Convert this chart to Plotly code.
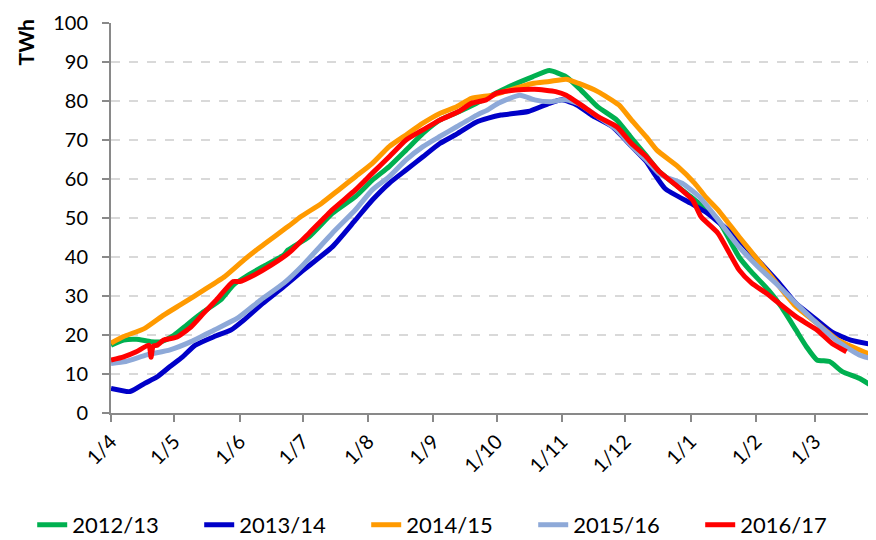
import plotly.graph_objects as go

# ---- data (TWh) ----
months_tickvals = ["2016-04-01", "2016-05-01", "2016-06-01", "2016-07-01", "2016-08-01",
                   "2016-09-01", "2016-10-01", "2016-11-01", "2016-12-01", "2017-01-01",
                   "2017-02-01", "2017-03-01"]
months_ticktext = ["1/4", "1/5", "1/6", "1/7", "1/8", "1/9", "1/10", "1/11", "1/12", "1/1", "1/2", "1/3"]

s1213_dates = ["2016-04-01", "2016-04-07", "2016-04-13", "2016-04-20", "2016-04-25", "2016-05-01",
               "2016-05-07", "2016-05-15", "2016-05-23", "2016-05-29", "2016-06-04", "2016-06-12",
               "2016-06-22", "2016-06-24", "2016-07-04", "2016-07-15", "2016-07-26", "2016-08-03",
               "2016-08-11", "2016-08-19", "2016-08-27", "2016-09-04", "2016-09-12", "2016-09-21",
               "2016-09-27", "2016-10-07", "2016-10-18", "2016-10-26", "2016-11-03", "2016-11-10",
               "2016-11-18", "2016-11-27", "2016-12-04", "2016-12-11", "2016-12-17", "2017-01-01",
               "2017-01-14", "2017-01-24", "2017-01-29", "2017-02-07", "2017-02-13", "2017-02-20",
               "2017-02-25", "2017-03-02", "2017-03-08", "2017-03-14", "2017-03-22", "2017-03-30"]
s1213_vals = [17.4, 18.7, 18.9, 18.3, 18.3, 20.0,
              22.6, 26.0, 29.0, 32.8, 35.0, 37.5,
              40.5, 41.8, 45.2, 51.2, 55.5, 59.7,
              63.2, 67.4, 71.7, 75.1, 77.0, 79.3,
              81.0, 83.7, 86.2, 87.8, 86.2, 82.8,
              78.5, 75.1, 70.5, 66.0, 62.0, 55.5,
              49.5, 40.0, 36.7, 31.5, 27.3, 21.3,
              17.0, 13.6, 13.2, 10.6, 8.9, 6.3]

s1314_dates = ["2016-04-01", "2016-04-10", "2016-04-17", "2016-04-23", "2016-04-29", "2016-05-05",
               "2016-05-11", "2016-05-20", "2016-05-28", "2016-06-03", "2016-06-12", "2016-06-22",
               "2016-07-01", "2016-07-15", "2016-07-26", "2016-08-03", "2016-08-11", "2016-08-19",
               "2016-08-27", "2016-09-04", "2016-09-12", "2016-09-21", "2016-09-27", "2016-10-03",
               "2016-10-16", "2016-10-26", "2016-11-01", "2016-11-08", "2016-11-15", "2016-11-25",
               "2016-12-04", "2016-12-11", "2016-12-14", "2016-12-20", "2017-01-01", "2017-01-08",
               "2017-01-13", "2017-01-24", "2017-02-02", "2017-02-12", "2017-02-20", "2017-03-02",
               "2017-03-09", "2017-03-18", "2017-03-30"]
s1314_vals = [6.3, 5.5, 7.6, 9.3, 11.9, 14.4,
              17.4, 19.6, 21.3, 23.8, 28.1, 32.4,
              36.5, 42.6, 49.5, 54.6, 58.9, 62.3,
              65.7, 69.1, 71.5, 74.5, 75.6, 76.4,
              77.3, 79.4, 80.3, 79.0, 76.4, 73.4,
              68.4, 64.5, 62.0, 57.5, 53.8, 51.6,
              49.5, 44.4, 39.2, 33.3, 28.1, 23.8,
              20.8, 18.7, 17.4]

s1415_dates = ["2016-04-01", "2016-04-07", "2016-04-17", "2016-04-26", "2016-05-05", "2016-05-15",
               "2016-05-25", "2016-06-03", "2016-06-09", "2016-06-24", "2016-06-30", "2016-07-10",
               "2016-07-18", "2016-07-26", "2016-08-03", "2016-08-11", "2016-08-19", "2016-08-27",
               "2016-09-04", "2016-09-12", "2016-09-19", "2016-09-29", "2016-10-07", "2016-10-18",
               "2016-10-26", "2016-11-03", "2016-11-09", "2016-11-18", "2016-11-28", "2016-12-04",
               "2016-12-11", "2016-12-16", "2016-12-26", "2017-01-03", "2017-01-08", "2017-01-14",
               "2017-01-24", "2017-02-02", "2017-02-12", "2017-02-20", "2017-03-02", "2017-03-12",
               "2017-03-22", "2017-03-30"]
s1415_vals = [17.9, 19.6, 21.7, 25.1, 28.1, 31.5,
              35.0, 39.2, 41.8, 47.8, 50.3, 53.8,
              57.2, 60.6, 64.0, 68.3, 71.3, 74.3,
              76.8, 78.5, 80.7, 81.5, 82.8, 84.5,
              85.0, 85.6, 84.5, 82.4, 79.0, 75.1,
              70.8, 67.4, 63.2, 58.9, 55.5, 52.1,
              45.2, 39.2, 32.5, 27.3, 23.0, 18.7,
              16.2, 14.4]

s1516_dates = ["2016-04-01", "2016-04-08", "2016-04-18", "2016-04-29", "2016-05-09", "2016-05-20",
               "2016-05-31", "2016-06-11", "2016-06-22", "2016-07-01", "2016-07-15", "2016-07-26",
               "2016-08-03", "2016-08-11", "2016-08-19", "2016-08-27", "2016-09-04", "2016-09-12",
               "2016-09-22", "2016-09-27", "2016-10-02", "2016-10-12", "2016-10-19", "2016-10-26",
               "2016-11-03", "2016-11-10", "2016-11-18", "2016-11-27", "2016-12-04", "2016-12-11",
               "2016-12-17", "2016-12-20", "2016-12-28", "2017-01-05", "2017-01-13", "2017-01-24",
               "2017-02-02", "2017-02-12", "2017-02-20", "2017-03-02", "2017-03-12", "2017-03-22",
               "2017-03-30"]
s1516_vals = [12.7, 13.2, 14.9, 16.2, 18.3, 21.3,
              24.3, 29.0, 33.3, 37.9, 46.1, 52.1,
              57.2, 60.6, 64.9, 68.3, 70.9, 73.4,
              76.5, 77.8, 79.5, 81.5, 80.3, 79.8,
              80.3, 79.0, 76.0, 72.6, 68.4, 64.9,
              61.4, 60.5, 58.9, 55.5, 50.3, 42.6,
              37.5, 32.5, 28.1, 23.0, 18.3, 14.9,
              13.6]

s1617_dates = ["2016-04-01", "2016-04-07", "2016-04-13", "2016-04-19", "2016-04-20", "2016-04-21",
               "2016-04-23", "2016-04-26", "2016-05-02", "2016-05-09", "2016-05-15", "2016-05-21",
               "2016-05-29", "2016-06-01", "2016-06-08", "2016-06-16", "2016-06-25", "2016-07-04",
               "2016-07-15", "2016-07-26", "2016-08-03", "2016-08-11", "2016-08-19", "2016-08-27",
               "2016-09-04", "2016-09-13", "2016-09-19", "2016-09-26", "2016-10-01", "2016-10-10",
               "2016-10-19", "2016-10-29", "2016-11-03", "2016-11-10", "2016-11-18", "2016-11-27",
               "2016-12-04", "2016-12-11", "2016-12-17", "2016-12-26", "2017-01-02", "2017-01-06",
               "2017-01-14", "2017-01-24", "2017-01-30", "2017-02-06", "2017-02-12", "2017-02-20",
               "2017-03-02", "2017-03-09", "2017-03-16"]
s1617_vals = [13.6, 14.4, 15.7, 17.4, 14.3, 17.2,
              17.4, 18.7, 19.4, 22.1, 25.6, 29.0,
              33.7, 33.7, 35.4, 37.9, 41.3, 46.1,
              52.1, 57.2, 61.5, 65.7, 70.0, 72.6,
              75.1, 77.3, 79.4, 80.3, 82.0, 82.8,
              83.0, 82.4, 81.5, 79.0, 76.0, 73.4,
              69.1, 65.7, 62.0, 58.0, 54.6, 50.3,
              46.1, 36.7, 33.3, 30.7, 28.1, 24.7,
              21.3, 17.9, 15.7]

series = [
    ("2012/13", s1213_dates, s1213_vals, "#00B050"),
    ("2013/14", s1314_dates, s1314_vals, "#0000C8"),
    ("2014/15", s1415_dates, s1415_vals, "#FF9A00"),
    ("2015/16", s1516_dates, s1516_vals, "#8EA9D8"),
    ("2016/17", s1617_dates, s1617_vals, "#FF0000"),
]

fig = go.Figure()
for name, d, v, c in series:
    fig.add_trace(go.Scatter(x=d, y=v, name=name, mode="lines",
                             line=dict(color=c, width=5, shape="spline", smoothing=0.5)))

FONT = "Lato"
# the page body adds an 8px offset, so the figure is 868x532
fig.update_layout(
    width=868, height=532,
    margin=dict(l=103, r=0, t=15, b=127, autoexpand=False),
    plot_bgcolor="white", paper_bgcolor="white",
    font=dict(family=FONT, size=20, color="#000000"),
    showlegend=True,
    legend=dict(orientation="h", xref="paper", yref="paper",
                x=-0.103, xanchor="left", y=-0.287, yanchor="middle",
                entrywidth=122, entrywidthmode="pixels",
                font=dict(family=FONT, size=22, color="#000000"),
                itemsizing="constant", tracegroupgap=0),
    annotations=[dict(text="<b>TWh</b>", xref="paper", yref="paper",
                      x=-0.112, y=0.951, xanchor="center", yanchor="middle",
                      textangle=-90, showarrow=False,
                      font=dict(family=FONT, size=21, color="#000000"))],
)
fig.update_xaxes(
    type="date", range=["2016-04-01", "2017-03-30"], automargin=False,
    tickvals=months_tickvals, ticktext=months_ticktext, tickangle=-45,
    showgrid=False, zeroline=False,
    showline=True, linecolor="#898989", linewidth=2,
    ticks="outside", ticklen=7, tickwidth=1.5, tickcolor="#898989",
    tickfont=dict(family=FONT, size=20, color="#000000"),
)
fig.update_yaxes(
    range=[0, 100], dtick=10, tick0=0, automargin=False,
    showgrid=True, gridcolor="#D9D9D9", griddash="dash", gridwidth=1.5,
    zeroline=False,
    showline=True, linecolor="#898989", linewidth=2,
    ticks="outside", ticklen=7, tickwidth=1.5, tickcolor="#898989",
    ticklabelstandoff=10,
    tickfont=dict(family=FONT, size=20, color="#000000"),
)

fig.write_html("out.html")
